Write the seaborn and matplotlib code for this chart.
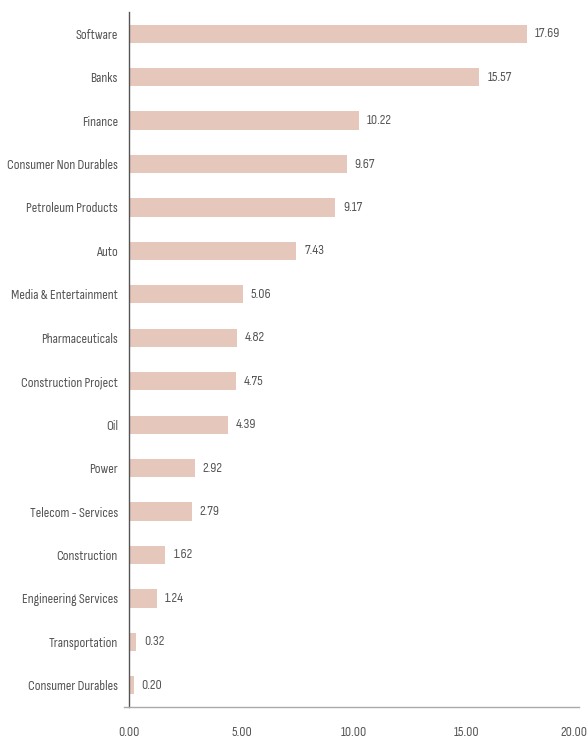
import matplotlib
matplotlib.use("Agg")
import matplotlib.pyplot as plt
import matplotlib.transforms as mtransforms
import seaborn as sns
import pandas as pd
import numpy as np

sectors = ["Software", "Banks", "Finance", "Consumer Non Durables", "Petroleum Products",
           "Auto", "Media & Entertainment", "Pharmaceuticals", "Construction Project", "Oil",
           "Power", "Telecom - Services", "Construction", "Engineering Services",
           "Transportation", "Consumer Durables"]
weights = [17.69, 15.57, 10.22, 9.67, 9.17, 7.43, 5.06, 4.82, 4.75, 4.39,
           2.92, 2.79, 1.62, 1.24, 0.32, 0.20]
x_ticks = [0, 5, 10, 15, 20]
x_tick_labels = ["0.00", "5.00", "10.00", "15.00", "20.00"]

sns.set_style("white")
plt.rcParams["font.family"] = ["Sofia Sans Condensed", "DejaVu Sans"]
plt.rcParams["font.weight"] = 500

df = pd.DataFrame({"sector": sectors, "weight": weights})

fig = plt.figure(figsize=(5.88, 7.40), dpi=100)
ax = fig.add_axes([129 / 588, 1 - 707 / 740, (579 - 129) / 588, (707 - 12) / 740])

sns.barplot(data=df, y="sector", x="weight", orient="h", color="#e6c7bc",
            saturation=1, width=0.42, linewidth=0, ax=ax)

text_col = "#555555"
fs = 10
for i, v in enumerate(weights):
    ax.text(v + 0.35, i, f"{v:.2f}", va="center", ha="left", fontsize=fs, color=text_col)

ax.set_xlim(0, 20)
ax.set_ylim(len(sectors) - 0.5, -0.5)
ax.set_xlabel("")
ax.set_ylabel("")

# category labels centred on bars, tick marks at the band boundaries
ax.set_yticks(np.arange(len(sectors)))
ax.set_yticklabels(sectors, fontsize=fs, color=text_col)
ax.tick_params(axis="y", which="major", length=0, pad=8)
ax.set_yticks(np.arange(-0.5, len(sectors), 1.0), minor=True)
ax.tick_params(axis="y", which="minor", length=5, width=1, color=text_col, direction="out")

ax.set_xticks(x_ticks)
ax.set_xticklabels(x_tick_labels, fontsize=fs, color=text_col)
ax.tick_params(axis="x", length=5, width=1, color="#aaaaaa", direction="out", pad=9)

# keep the last tick label inside the canvas
last = ax.get_xticklabels()[-1]
last.set_transform(last.get_transform() + mtransforms.ScaledTranslation(-5 / 100, 0, fig.dpi_scale_trans))

for side in ["top", "right"]:
    ax.spines[side].set_visible(False)
ax.spines["left"].set_color(text_col)
ax.spines["left"].set_linewidth(1)
ax.spines["bottom"].set_color("#aaaaaa")
ax.spines["bottom"].set_linewidth(1)
ax.spines["bottom"].set_bounds(-0.22, 20)
ax.grid(False)

fig.savefig("out.png", dpi=100)
